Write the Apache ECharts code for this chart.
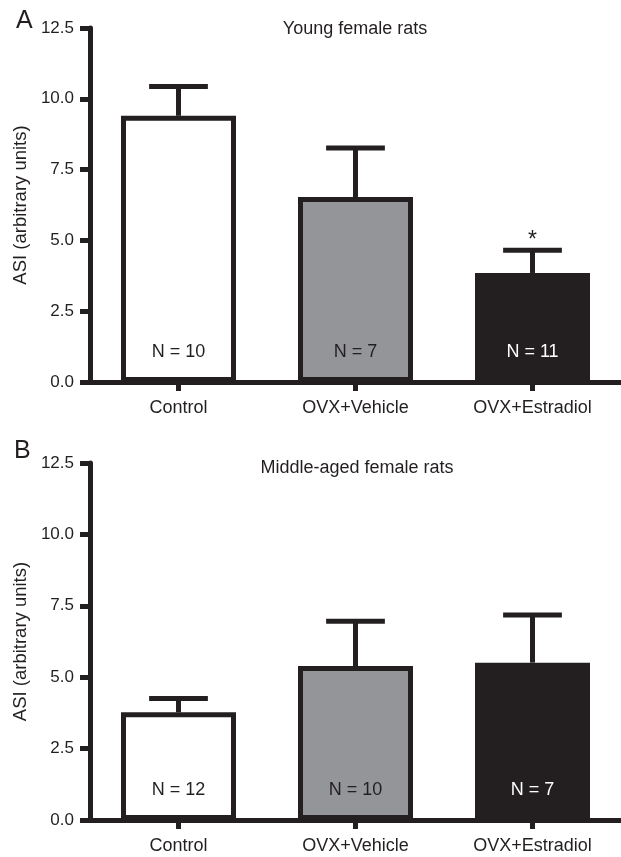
<!DOCTYPE html>
<html>
<head>
<meta charset="utf-8">
<script src="https://cdn.jsdelivr.net/npm/echarts@6/dist/echarts.min.js"></script>
<style>
  html, body { margin: 0; padding: 0; background: #ffffff; }
  #chart { width: 621px; height: 857px; }
</style>
</head>
<body>
<div id="chart"></div>
<script>
// ---- data ----
const categories = ['Control', 'OVX+Vehicle', 'OVX+Estradiol'];
const youngMean = [9.40, 6.53, 3.85];
const youngSem = [1.03, 1.73, 0.80];
const youngN = [10, 7, 11];
const youngSig = ['', '', '*'];
const middleMean = [3.77, 5.39, 5.51];
const middleSem = [0.48, 1.57, 1.67];
const middleN = [12, 10, 7];
const yMin = 0, yMax = 12.5, yStep = 2.5;
const panelTitles = ['Young female rats', 'Middle-aged female rats'];
const panelLetters = ['A', 'B'];
const yAxisName = 'ASI (arbitrary units)';

// ---- style ----
const INK = '#231f20';
const fills = ['#ffffff', '#939598', '#231f20'];
const labelColors = [INK, INK, '#ffffff'];
const FONT = '"Liberation Sans", Arial, Helvetica, sans-serif';

const chart = echarts.init(document.getElementById('chart'), null, { renderer: 'canvas' });

function xAxisFor(idx) {
  return {
    type: 'category', gridIndex: idx, data: categories,
    axisLine: { show: true, lineStyle: { color: INK, width: 5 } },
    axisTick: { show: true, alignWithLabel: true, length: 9, lineStyle: { color: INK, width: 5 } },
    axisLabel: { color: INK, fontSize: 18, fontFamily: FONT, margin: 17 },
    splitLine: { show: false }
  };
}
function yAxisFor(idx) {
  return {
    type: 'value', gridIndex: idx, min: yMin, max: yMax, interval: yStep,
    axisLine: { show: true, lineStyle: { color: INK, width: 5 } },
    axisTick: { show: true, length: 10, lineStyle: { color: INK, width: 5 } },
    axisLabel: { color: INK, fontSize: 17, fontFamily: FONT, margin: 16,
      formatter: v => v.toFixed(1) },
    splitLine: { show: false },
    name: yAxisName, nameLocation: 'middle', nameGap: 56,
    nameTextStyle: { color: INK, fontSize: 18.5, fontFamily: FONT }
  };
}
function barSeries(idx, means, ns) {
  return {
    type: 'bar', xAxisIndex: idx, yAxisIndex: idx, barWidth: 115, z: 2,
    data: means.map((m, i) => ({
      value: m,
      itemStyle: { color: fills[i], borderColor: INK, borderWidth: 5 },
      label: { color: labelColors[i] }
    })),
    label: {
      show: true, position: 'insideBottom', distance: 21,
      fontSize: 18, fontFamily: FONT,
      formatter: p => 'N = ' + ns[p.dataIndex]
    },
    animation: false
  };
}
function errSeries(idx, means, sems, sig) {
  return {
    type: 'custom', xAxisIndex: idx, yAxisIndex: idx, z: 3,
    data: means.map((m, i) => [i, m, m + sems[i]]),
    encode: { x: 0, y: [1, 2] },
    renderItem: function (params, api) {
      const x = api.value(0);
      const lo = api.coord([x, api.value(1)]);
      const hi = api.coord([x, api.value(2)]);
      const half = api.size([1, 0])[0] * 0.166;
      const st = { stroke: INK, lineWidth: 5 };
      const children = [
        { type: 'line', shape: { x1: lo[0], y1: lo[1], x2: hi[0], y2: hi[1] }, style: st },
        { type: 'line', shape: { x1: hi[0] - half, y1: hi[1], x2: hi[0] + half, y2: hi[1] }, style: st }
      ];
      const s = sig ? sig[params.dataIndex] : '';
      if (s) {
        children.push({ type: 'text', style: { text: s, x: hi[0], y: hi[1] - 10,
          textAlign: 'center', textVerticalAlign: 'middle', fontSize: 23, fontFamily: FONT, fill: INK } });
      }
      return { type: 'group', children: children };
    },
    animation: false
  };
}

const option = {
  backgroundColor: '#ffffff',
  animation: false,
  grid: [
    { left: 90, right: 0, top: 28, height: 354 },
    { left: 90, right: 0, top: 463, height: 357 }
  ],
  xAxis: [xAxisFor(0), xAxisFor(1)],
  yAxis: [yAxisFor(0), yAxisFor(1)],
  series: [
    barSeries(0, youngMean, youngN),
    errSeries(0, youngMean, youngSem, youngSig),
    barSeries(1, middleMean, middleN),
    errSeries(1, middleMean, middleSem, null)
  ],
  graphic: [
    { type: 'text', left: 16, top: 9, style: { text: panelLetters[0], fontSize: 25, fontFamily: FONT, fill: INK } },
    { type: 'text', left: 14, top: 439, style: { text: panelLetters[1], fontSize: 25, fontFamily: FONT, fill: INK } },
    { type: 'text', x: 355, y: 29, style: { text: panelTitles[0], textAlign: 'center', textVerticalAlign: 'middle', fontSize: 18, fontFamily: FONT, fill: INK } },
    { type: 'text', x: 357, y: 468, style: { text: panelTitles[1], textAlign: 'center', textVerticalAlign: 'middle', fontSize: 18, fontFamily: FONT, fill: INK } }
  ]
};
chart.setOption(option);
</script>
</body>
</html>
